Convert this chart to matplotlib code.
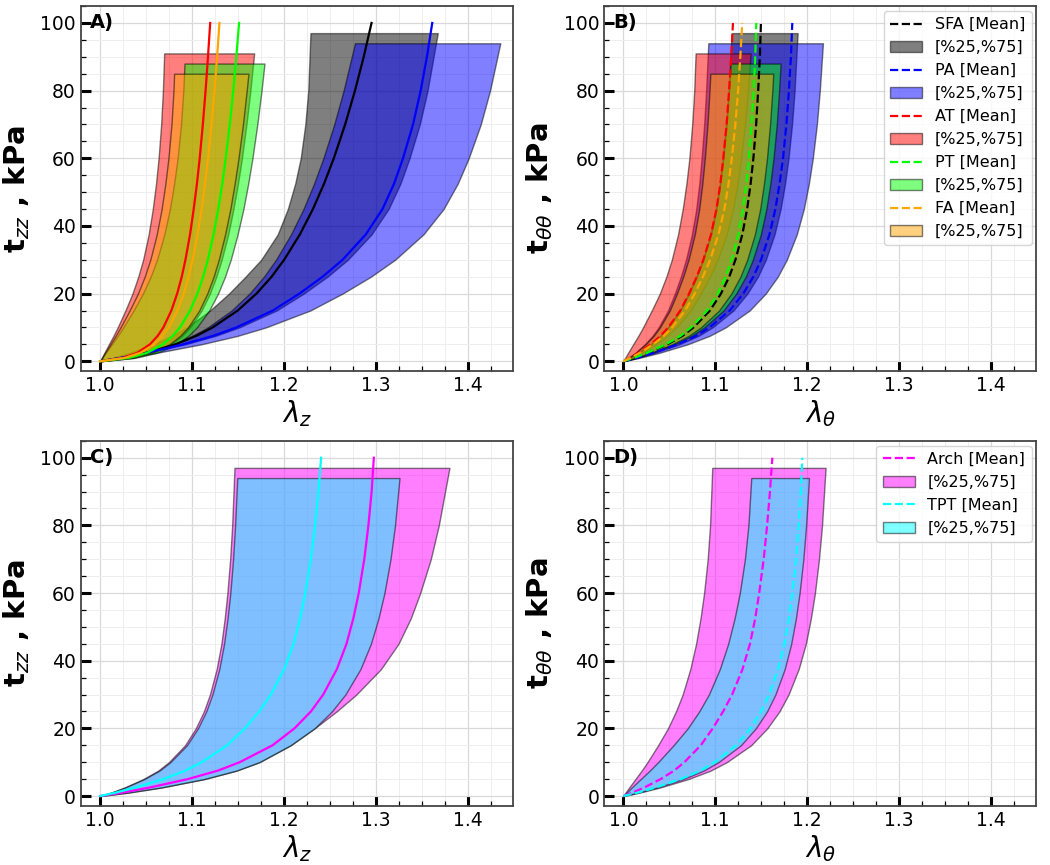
import matplotlib
matplotlib.use("Agg")
import matplotlib.pyplot as plt
from matplotlib.ticker import AutoMinorLocator

t_mean = [0, 1, 2.5, 5, 7.5, 10, 15, 20, 25, 30, 37.5, 45, 52.5, 60, 70, 80, 90, 100]
t_band = [0, 1, 2.5, 5, 7.5, 10, 15, 20, 25, 30, 37.5, 45, 52.5, 60, 70, 80]  # + band top

# ---- panel A : axial stretch, five groups
lz_sfa_mean = [1, 1.024, 1.0506, 1.0818, 1.1045, 1.1223, 1.1495, 1.1699, 1.1864, 1.2, 1.2171, 1.2313, 1.2434, 1.254, 1.2663, 1.277, 1.2865, 1.295]
lz_sfa_lo = [1, 1.0138, 1.0322, 1.0574, 1.0781, 1.0942, 1.1194, 1.14, 1.158, 1.175, 1.193, 1.204, 1.212, 1.218, 1.223, 1.2262, 1.2286]
lz_sfa_hi = [1, 1.0221, 1.0516, 1.0922, 1.1254, 1.1512, 1.1918, 1.2213, 1.2471, 1.2692, 1.295, 1.3135, 1.3264, 1.3363, 1.3474, 1.3559, 1.367]
lz_pa_mean = [1, 1.0217, 1.0505, 1.0903, 1.1227, 1.148, 1.1877, 1.2166, 1.2419, 1.2635, 1.2888, 1.3069, 1.3195, 1.3292, 1.3401, 1.3484, 1.3552, 1.361]
lz_pa_lo = [1, 1.0229, 1.0483, 1.0782, 1.0998, 1.1169, 1.1428, 1.1623, 1.178, 1.1911, 1.2074, 1.221, 1.2325, 1.2426, 1.2544, 1.2646, 1.277]
lz_pa_hi = [1, 1.0264, 1.0615, 1.1098, 1.1493, 1.1801, 1.2284, 1.2635, 1.2943, 1.3206, 1.3514, 1.3733, 1.3887, 1.4006, 1.4137, 1.4238, 1.435]
lz_at_mean = [1, 1.0248, 1.0404, 1.0541, 1.0625, 1.0687, 1.0774, 1.0837, 1.0887, 1.0927, 1.0977, 1.1017, 1.1052, 1.1082, 1.1116, 1.1146, 1.1172, 1.1196]
lz_at_lo = [1, 1.0018, 1.0046, 1.0095, 1.0144, 1.019, 1.0274, 1.0351, 1.0414, 1.0467, 1.0527, 1.0572, 1.0607, 1.0635, 1.0663, 1.0682, 1.0696]
lz_at_hi = [1, 1.0353, 1.0576, 1.0771, 1.0891, 1.0978, 1.1103, 1.1193, 1.1263, 1.1321, 1.1392, 1.1449, 1.1498, 1.1541, 1.159, 1.1633, 1.1674]
lz_pt_mean = [1, 1.0313, 1.051, 1.0683, 1.0789, 1.0867, 1.0978, 1.1057, 1.112, 1.1171, 1.1233, 1.1284, 1.1328, 1.1365, 1.1409, 1.1447, 1.148, 1.151]
lz_pt_lo = [1, 1.0023, 1.006, 1.0126, 1.0191, 1.0251, 1.0363, 1.0465, 1.0549, 1.0618, 1.0698, 1.0758, 1.0804, 1.0842, 1.0879, 1.0904, 1.0917]
lz_pt_hi = [1, 1.0379, 1.0618, 1.0828, 1.0957, 1.1051, 1.1185, 1.1281, 1.1357, 1.1419, 1.1494, 1.1557, 1.1609, 1.1655, 1.1708, 1.1754, 1.1786]
lz_fa_mean = [1, 1.0269, 1.0438, 1.0587, 1.0678, 1.0745, 1.084, 1.0908, 1.0962, 1.1005, 1.1059, 1.1103, 1.114, 1.1173, 1.121, 1.1243, 1.1271, 1.1297]
lz_fa_lo = [1, 1.0021, 1.0053, 1.0111, 1.0168, 1.0221, 1.032, 1.041, 1.0484, 1.0545, 1.0615, 1.0668, 1.0709, 1.0742, 1.0775, 1.0797, 1.0804]
lz_fa_hi = [1, 1.0345, 1.0562, 1.0752, 1.0869, 1.0955, 1.1077, 1.1164, 1.1233, 1.1289, 1.1358, 1.1415, 1.1462, 1.1504, 1.1552, 1.1593, 1.1612]

# ---- panel B : circumferential stretch, five groups
lt_sfa_mean = [1, 1.012, 1.0269, 1.0479, 1.0643, 1.0763, 1.0942, 1.1062, 1.1152, 1.1219, 1.1294, 1.1346, 1.1384, 1.1414, 1.1444, 1.1466, 1.1484, 1.1496]
lt_sfa_lo = [1, 1.0071, 1.0166, 1.0296, 1.0403, 1.0485, 1.0616, 1.071, 1.0793, 1.0864, 1.0947, 1.1006, 1.1048, 1.108, 1.1115, 1.1143, 1.1178]
lt_sfa_hi = [1, 1.0152, 1.0342, 1.0608, 1.0817, 1.0969, 1.1197, 1.1349, 1.1463, 1.1549, 1.1644, 1.171, 1.1758, 1.1796, 1.1834, 1.1862, 1.1895]
lt_pa_mean = [1, 1.0147, 1.0331, 1.0588, 1.079, 1.0937, 1.1157, 1.1304, 1.1414, 1.1497, 1.1589, 1.1653, 1.1699, 1.1736, 1.1773, 1.18, 1.1822, 1.1837]
lt_pa_lo = [1, 1.0056, 1.0131, 1.0233, 1.0317, 1.0383, 1.0485, 1.056, 1.0625, 1.0681, 1.0746, 1.0793, 1.0826, 1.0851, 1.0879, 1.09, 1.0924]
lt_pa_hi = [1, 1.0174, 1.0392, 1.0698, 1.0937, 1.1112, 1.1373, 1.1548, 1.1679, 1.1777, 1.1886, 1.1962, 1.2017, 1.206, 1.2104, 1.2136, 1.217]
lt_at_mean = [1, 1.0072, 1.0167, 1.0298, 1.0405, 1.0489, 1.062, 1.0715, 1.0799, 1.087, 1.0954, 1.1013, 1.1055, 1.1087, 1.1123, 1.115, 1.1173, 1.1192]
lt_at_lo = [1, 1.002, 1.0052, 1.0107, 1.0163, 1.0214, 1.0309, 1.0397, 1.0468, 1.0527, 1.0595, 1.0646, 1.0686, 1.0718, 1.0749, 1.0771, 1.0786]
lt_at_hi = [1, 1.0084, 1.0197, 1.0351, 1.0477, 1.0576, 1.073, 1.0842, 1.0941, 1.1025, 1.1123, 1.1193, 1.1243, 1.128, 1.1323, 1.1355, 1.1384]
lt_pt_mean = [1, 1.0116, 1.026, 1.0463, 1.0622, 1.0737, 1.0911, 1.1027, 1.1113, 1.1178, 1.1251, 1.1301, 1.1338, 1.1366, 1.1395, 1.1417, 1.1434, 1.1446]
lt_pt_lo = [1, 1.0071, 1.0167, 1.0298, 1.0405, 1.0488, 1.0619, 1.0715, 1.0798, 1.0869, 1.0953, 1.1012, 1.1054, 1.1086, 1.1122, 1.1149, 1.1167]
lt_pt_hi = [1, 1.0138, 1.0311, 1.0553, 1.0743, 1.0881, 1.1089, 1.1227, 1.1331, 1.1408, 1.1495, 1.1555, 1.1598, 1.1633, 1.1668, 1.1693, 1.171]
lt_fa_mean = [1, 1.0078, 1.0181, 1.0323, 1.044, 1.053, 1.0672, 1.0776, 1.0866, 1.0944, 1.1034, 1.1099, 1.1144, 1.1179, 1.1218, 1.1248, 1.1272, 1.1293]
lt_fa_lo = [1, 1.0058, 1.0136, 1.0243, 1.033, 1.0398, 1.0505, 1.0583, 1.0651, 1.0709, 1.0777, 1.0825, 1.0859, 1.0886, 1.0915, 1.0937, 1.0946]
lt_fa_hi = [1, 1.0132, 1.0298, 1.0529, 1.0711, 1.0843, 1.1041, 1.1174, 1.1273, 1.1347, 1.143, 1.1488, 1.1529, 1.1562, 1.1595, 1.162, 1.163]

# ---- panel C : axial stretch, Arch vs TPT
lz_arch_mean = [1, 1.0238, 1.0536, 1.0952, 1.1279, 1.1517, 1.1874, 1.2112, 1.2291, 1.2425, 1.2573, 1.2678, 1.2752, 1.2811, 1.2871, 1.2916, 1.2951, 1.2975]
lz_arch_lo = [1, 1.0117, 1.0264, 1.0468, 1.063, 1.0747, 1.0922, 1.1039, 1.1127, 1.1193, 1.1266, 1.1318, 1.1354, 1.1383, 1.1413, 1.1435, 1.146]
lz_arch_hi = [1, 1.03, 1.066, 1.113, 1.148, 1.173, 1.207, 1.233, 1.257, 1.2785, 1.3052, 1.3243, 1.3376, 1.3479, 1.3594, 1.3681, 1.3797]
lz_tpt_mean = [1, 1.0168, 1.0384, 1.0685, 1.0925, 1.1105, 1.1381, 1.1573, 1.1729, 1.1856, 1.2, 1.2102, 1.2174, 1.223, 1.229, 1.2336, 1.2373, 1.2402]
lz_tpt_lo = [1, 1.012, 1.0269, 1.0479, 1.0644, 1.0763, 1.0943, 1.1063, 1.1153, 1.122, 1.1295, 1.1347, 1.1385, 1.1415, 1.1445, 1.1467, 1.149]
lz_tpt_hi = [1, 1.03, 1.066, 1.113, 1.148, 1.173, 1.207, 1.233, 1.2518, 1.2665, 1.2829, 1.2943, 1.3025, 1.309, 1.3156, 1.3205, 1.3254]

# ---- panel D : circumferential stretch, Arch vs TPT
lt_arch_mean = [1, 1.0097, 1.0227, 1.0405, 1.0551, 1.0664, 1.0842, 1.0972, 1.1085, 1.1183, 1.1296, 1.1377, 1.1434, 1.1477, 1.1526, 1.1563, 1.1594, 1.162]
lt_arch_lo = [1, 1.0024, 1.0063, 1.0131, 1.0199, 1.0262, 1.0378, 1.0485, 1.0572, 1.0645, 1.0728, 1.0791, 1.0839, 1.0878, 1.0917, 1.0943, 1.0967]
lt_arch_hi = [1, 1.0176, 1.0397, 1.0705, 1.0948, 1.1124, 1.1389, 1.1565, 1.1697, 1.1796, 1.1906, 1.1984, 1.2039, 1.2083, 1.2127, 1.216, 1.2199]
lt_tpt_mean = [1, 1.0156, 1.035, 1.0623, 1.0837, 1.0992, 1.1226, 1.1382, 1.1498, 1.1586, 1.1683, 1.1751, 1.18, 1.1839, 1.1878, 1.1907, 1.193, 1.1946]
lt_tpt_lo = [1, 1.0035, 1.0091, 1.0189, 1.0287, 1.0378, 1.0546, 1.07, 1.0825, 1.093, 1.1049, 1.114, 1.121, 1.1266, 1.1322, 1.136, 1.1391]
lt_tpt_hi = [1, 1.0162, 1.0365, 1.0649, 1.0872, 1.1034, 1.1278, 1.144, 1.1562, 1.1653, 1.1754, 1.1825, 1.1876, 1.1916, 1.1957, 1.1987, 1.2018]

names_ab = ["SFA", "PA", "AT", "PT", "FA"]
colors_ab = ["black", "blue", "red", "lime", "orange"]
tops_ab = [97, 94, 91, 88, 85]
names_cd = ["Arch", "TPT"]
colors_cd = ["magenta", "cyan"]
tops_cd = [97, 94]


def draw(ax, means, los, his, names, colors, tops, dashed):
    for m, lo, hi, n, c, top in zip(means, los, his, names, colors, tops):
        ax.plot(m, t_mean, color=c, lw=1.6, ls="--" if dashed else "-",
                label=n + " [Mean]")
        ax.fill_betweenx(t_band + [top], lo, hi, facecolor=c, edgecolor="k",
                         alpha=0.5, lw=1, label="[%25,%75]")


fig, axs = plt.subplots(2, 2, figsize=(10.5, 8.65), dpi=100)
fig.subplots_adjust(left=0.077, right=0.987, bottom=0.068, top=0.993,
                    wspace=0.21, hspace=0.19)

draw(axs[0, 0], [lz_sfa_mean, lz_pa_mean, lz_at_mean, lz_pt_mean, lz_fa_mean],
     [lz_sfa_lo, lz_pa_lo, lz_at_lo, lz_pt_lo, lz_fa_lo],
     [lz_sfa_hi, lz_pa_hi, lz_at_hi, lz_pt_hi, lz_fa_hi],
     names_ab, colors_ab, tops_ab, False)
draw(axs[0, 1], [lt_sfa_mean, lt_pa_mean, lt_at_mean, lt_pt_mean, lt_fa_mean],
     [lt_sfa_lo, lt_pa_lo, lt_at_lo, lt_pt_lo, lt_fa_lo],
     [lt_sfa_hi, lt_pa_hi, lt_at_hi, lt_pt_hi, lt_fa_hi],
     names_ab, colors_ab, tops_ab, True)
draw(axs[1, 0], [lz_arch_mean, lz_tpt_mean], [lz_arch_lo, lz_tpt_lo],
     [lz_arch_hi, lz_tpt_hi], names_cd, colors_cd, tops_cd, False)
draw(axs[1, 1], [lt_arch_mean, lt_tpt_mean], [lt_arch_lo, lt_tpt_lo],
     [lt_arch_hi, lt_tpt_hi], names_cd, colors_cd, tops_cd, True)

xlabels = [r"$\lambda_z$", r"$\lambda_\theta$", r"$\lambda_z$", r"$\lambda_\theta$"]
ylabels = [r"$\mathbf{t}_{zz}$ , kPa", r"$\mathbf{t}_{\theta\theta}$ , kPa",
           r"$\mathbf{t}_{zz}$ , kPa", r"$\mathbf{t}_{\theta\theta}$ , kPa"]
tags = ["A)", "B)", "C)", "D)"]

for ax, xl, yl, tag in zip(axs.flat, xlabels, ylabels, tags):
    ax.set_xlim(0.979, 1.449)
    ax.set_ylim(-3, 105)
    ax.set_xticks([1.0, 1.1, 1.2, 1.3, 1.4])
    ax.set_yticks([0, 20, 40, 60, 80, 100])
    ax.xaxis.set_minor_locator(AutoMinorLocator(4))
    ax.yaxis.set_minor_locator(AutoMinorLocator(4))
    ax.grid(which="major", color="#d9d9d9", lw=0.9)
    ax.grid(which="minor", color="#eeeeee", lw=0.7)
    ax.set_axisbelow(True)
    ax.tick_params(which="major", direction="in", length=7, width=2.2,
                   labelsize=13.5)
    ax.tick_params(which="minor", direction="in", length=3.5, width=0.9)
    for sp in ax.spines.values():
        sp.set_color("#444444")
        sp.set_linewidth(1.3)
    ax.set_xlabel(xl, fontsize=20, labelpad=2)
    ax.set_ylabel(yl, fontsize=21, fontweight="bold", labelpad=6)
    ax.text(0.022, 0.955, tag, transform=ax.transAxes, fontsize=14,
            fontweight="bold", va="center")

for ax in (axs[0, 1], axs[1, 1]):
    ax.legend(loc="upper right", fontsize=11.5, labelspacing=0.5,
              borderaxespad=0.3)

fig.savefig("out.png", dpi=100)
